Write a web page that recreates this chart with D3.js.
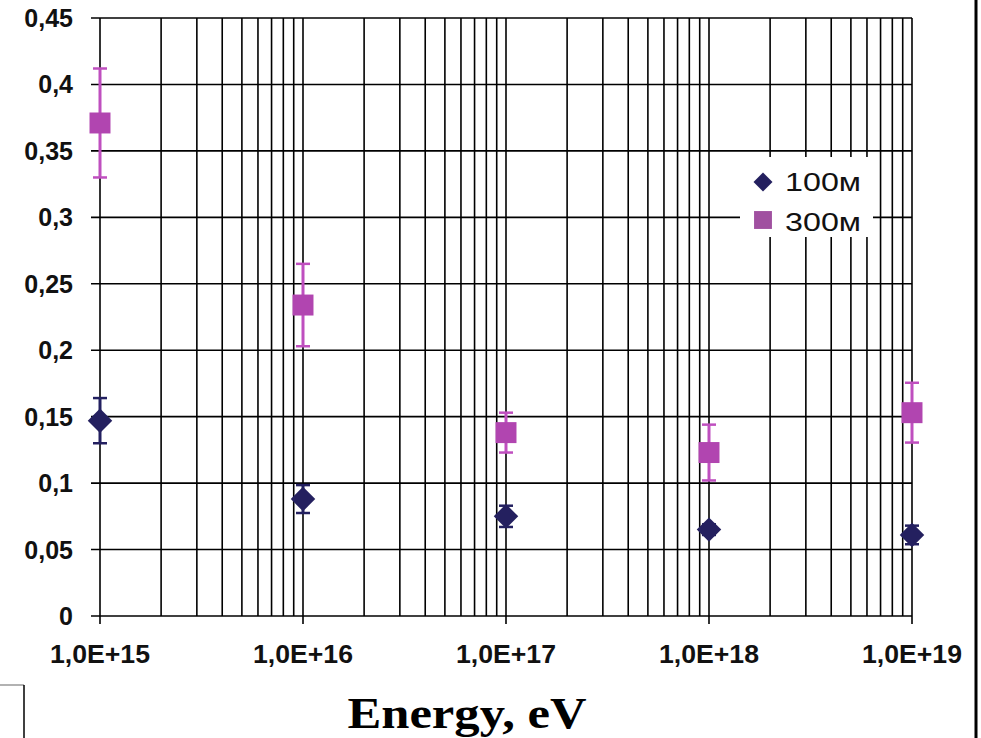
<!DOCTYPE html>
<html>
<head>
<meta charset="utf-8">
<script src="https://cdn.jsdelivr.net/npm/d3@7"></script>
<style>
  body { margin: 0; background: #fff; }
  svg { display: block; }
  text { font-family: "Liberation Sans", Arial, sans-serif; fill: #111; }
</style>
</head>
<body>
<div id="chart"></div>
<script>
var width = 981,
  height = 738;

// data
var energies = [1e15, 1e16, 1e17, 1e18, 1e19];
var xTickLabels = ["1,0E+15", "1,0E+16", "1,0E+17", "1,0E+18", "1,0E+19"];
var yTicks = [0, 0.05, 0.1, 0.15, 0.2, 0.25, 0.3, 0.35, 0.4, 0.45];
var yTickLabels = ["0", "0,05", "0,1", "0,15", "0,2", "0,25", "0,3", "0,35", "0,4", "0,45"];

var series100 = [0.147, 0.088, 0.075, 0.065, 0.061];
var err100 = [0.017, 0.0105, 0.008, 0.004, 0.007];
var series300 = [0.371, 0.234, 0.138, 0.123, 0.153];
var err300 = [0.041, 0.031, 0.015, 0.021, 0.0225];

var seriesNames = ["100м", "300м"];

var x = d3.scaleLog()
  .domain([1e15, 1e19])
  .range([100, 912]);

var y = d3.scaleLinear()
  .domain([0, 0.45])
  .range([616, 18]);

var svg = d3.select("#chart")
  .append("svg")
  .attr("width", width)
  .attr("height", height);

// vertical grid (every log tick)
svg.append("g")
  .selectAll("line")
  .data(x.ticks())
  .enter().append("line")
  .attr("x1", function (d) { return x(d); })
  .attr("x2", function (d) { return x(d); })
  .attr("y1", y(0.45))
  .attr("y2", function (d) { return energies.indexOf(d) >= 0 ? y(0) + 8 : y(0); })
  .attr("stroke", "#000")
  .attr("stroke-width", 1.6);

// horizontal grid
svg.append("g")
  .selectAll("line")
  .data(yTicks)
  .enter().append("line")
  .attr("x1", x(1e15) - 9)
  .attr("x2", x(1e19))
  .attr("y1", function (d) { return y(d); })
  .attr("y2", function (d) { return y(d); })
  .attr("stroke", "#000")
  .attr("stroke-width", 1.6);

// y labels
svg.append("g")
  .selectAll("text")
  .data(yTicks)
  .enter().append("text")
  .attr("x", 73)
  .attr("y", function (d) { return y(d); })
  .attr("dy", "0.36em")
  .attr("text-anchor", "end")
  .attr("font-size", 25)
  .attr("font-weight", "bold")
  .text(function (d, i) { return yTickLabels[i]; });

// x labels
svg.append("g")
  .selectAll("text")
  .data(energies)
  .enter().append("text")
  .attr("x", function (d) { return x(d); })
  .attr("y", 663)
  .attr("text-anchor", "middle")
  .attr("font-size", 25)
  .attr("font-weight", "bold")
  .attr("textLength", 100)
  .attr("lengthAdjust", "spacingAndGlyphs")
  .text(function (d, i) { return xTickLabels[i]; });

// axis title
svg.append("text")
  .attr("x", 467)
  .attr("y", 728)
  .attr("text-anchor", "middle")
  .attr("font-weight", "bold")
  .attr("font-size", 44)
  .attr("textLength", 239)
  .attr("lengthAdjust", "spacingAndGlyphs")
  .style("font-family", "'Liberation Serif', 'Times New Roman', serif")
  .style("fill", "#000")
  .text("Energy, eV");

// frame bits
svg.append("line")
  .attr("x1", 976).attr("x2", 976)
  .attr("y1", 0).attr("y2", height)
  .attr("stroke", "#000").attr("stroke-width", 3);
svg.append("line")
  .attr("x1", 0).attr("x2", 24)
  .attr("y1", 685).attr("y2", 685)
  .attr("stroke", "#999").attr("stroke-width", 1.5);
svg.append("line")
  .attr("x1", 24).attr("x2", 24)
  .attr("y1", 685).attr("y2", height)
  .attr("stroke", "#000").attr("stroke-width", 1.5);

function drawErrors(vals, errs, color) {
  var g = svg.append("g").attr("stroke", color);
  vals.forEach(function (v, i) {
    var cx = x(energies[i]);
    g.append("line")
      .attr("x1", cx).attr("x2", cx)
      .attr("y1", y(v - errs[i])).attr("y2", y(v + errs[i]))
      .attr("stroke-width", 3);
    [v - errs[i], v + errs[i]].forEach(function (e) {
      g.append("line")
        .attr("x1", cx - 7).attr("x2", cx + 7)
        .attr("y1", y(e)).attr("y2", y(e))
        .attr("stroke-width", 2.5);
    });
  });
}

drawErrors(series300, err300, "#bf4fbf");
drawErrors(series100, err100, "#232060");

var diamond = d3.symbol().type(d3.symbolSquare).size(300);
var square = d3.symbol().type(d3.symbolSquare).size(440);

svg.append("g")
  .selectAll("path")
  .data(series300)
  .enter().append("path")
  .attr("d", square)
  .attr("transform", function (d, i) { return "translate(" + x(energies[i]) + "," + y(d) + ")"; })
  .attr("fill", "#b145b0");

svg.append("g")
  .selectAll("path")
  .data(series100)
  .enter().append("path")
  .attr("d", diamond)
  .attr("transform", function (d, i) { return "translate(" + x(energies[i]) + "," + y(d) + ") rotate(45)"; })
  .attr("fill", "#24205f");

// legend
var legend = svg.append("g");
legend.append("rect")
  .attr("x", 740).attr("y", 157)
  .attr("width", 133).attr("height", 80)
  .attr("fill", "#fff");
legend.append("path")
  .attr("d", d3.symbol().type(d3.symbolSquare).size(180))
  .attr("transform", "translate(763,182) rotate(45)")
  .attr("fill", "#24205f");
legend.append("path")
  .attr("d", d3.symbol().type(d3.symbolSquare).size(320))
  .attr("transform", "translate(763,220)")
  .attr("fill", "#a050a0");
legend.selectAll("text")
  .data(seriesNames)
  .enter().append("text")
  .attr("x", 785)
  .attr("y", function (d, i) { return 191 + i * 40; })
  .attr("font-size", 26)
  .attr("textLength", 76)
  .attr("lengthAdjust", "spacingAndGlyphs")
  .text(function (d) { return d; });
</script>
</body>
</html>
